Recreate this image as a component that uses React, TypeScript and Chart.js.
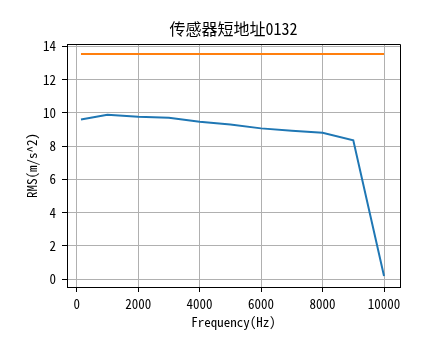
import React, { useEffect, useRef } from "react";
import { Chart, registerables } from "chart.js";

Chart.register(...registerables);

const TITLE = "传感器短地址0132";
const X_LABEL = "Frequency(Hz)";
const Y_LABEL = "RMS(m/s^2)";

const frequencies = [140, 1000, 2000, 3000, 4000, 5000, 6000, 7000, 8000, 9000, 10000];
const rmsValues = [9.61, 9.89, 9.77, 9.71, 9.47, 9.31, 9.07, 8.93, 8.81, 8.35, 0.18];
const thresholdX = [140, 10000];
const thresholdValues = [13.55, 13.55];

const xTicks = [0, 2000, 4000, 6000, 8000, 10000];
const yTicks = [0, 2, 4, 6, 8, 10, 12, 14];

const FONT = "'Noto Sans Mono CJK SC', 'Noto Sans CJK SC', 'DejaVu Sans', sans-serif";

const framePlugin = {
  id: "frame",
  beforeDraw(chart: any) {
    const { ctx, width, height } = chart;
    ctx.save();
    ctx.fillStyle = "#ffffff";
    ctx.fillRect(0, 0, width, height);
    ctx.restore();
  },
  afterDraw(chart: any) {
    const { ctx, chartArea } = chart;
    const l = Math.round(chartArea.left) + 0.5;
    const r = Math.round(chartArea.right) + 0.5;
    const t = Math.round(chartArea.top) + 0.5;
    const b = Math.round(chartArea.bottom) + 0.5;
    ctx.save();
    ctx.strokeStyle = "#000000";
    ctx.lineWidth = 1;
    ctx.beginPath();
    ctx.moveTo(l, t);
    ctx.lineTo(r, t);
    ctx.lineTo(r, b);
    ctx.stroke();
    ctx.restore();
  },
};

export default function App() {
  const canvasRef = useRef<HTMLCanvasElement | null>(null);

  useEffect(() => {
    const canvas = canvasRef.current;
    if (!canvas) return;
    const chart = new Chart(canvas, {
      type: "line",
      data: {
        datasets: [
          {
            label: "RMS",
            data: frequencies.map((x, i) => ({ x, y: rmsValues[i] })),
            borderColor: "#1f77b4",
            backgroundColor: "#1f77b4",
            borderWidth: 2,
            pointRadius: 0,
            tension: 0,
          },
          {
            label: "Threshold",
            data: thresholdX.map((x, i) => ({ x, y: thresholdValues[i] })),
            borderColor: "#ff7f0e",
            backgroundColor: "#ff7f0e",
            borderWidth: 2,
            pointRadius: 0,
            tension: 0,
          },
        ],
      },
      options: {
        responsive: false,
        animation: false,
        devicePixelRatio: 1,
        layout: { padding: { left: 0, right: 44, top: 0, bottom: 0 } },
        plugins: {
          legend: { display: false },
          tooltip: { enabled: false },
          title: {
            display: true,
            text: TITLE,
            fullSize: false,
            color: "#000000",
            font: { family: FONT, size: 16, weight: "normal", lineHeight: 1.2 },
            padding: { top: 18.9, bottom: 5.9 },
          },
        },
        scales: {
          x: {
            type: "linear",
            min: -315,
            max: 10520,
            afterBuildTicks: (s: any) => {
              s.ticks = xTicks.map((v) => ({ value: v }));
            },
            afterFit: (s: any) => {
              s.height = 72;
            },
            ticks: {
              color: "#000000",
              font: { family: FONT, size: 13 },
              padding: 4,
              maxRotation: 0,
              autoSkip: false,
              callback: (v: any) => String(v),
            },
            grid: { color: "#b0b0b0", lineWidth: 1, tickColor: "#000000", tickLength: 5, drawTicks: true },
            border: { color: "#000000", width: 1 },
            title: {
              display: true,
              text: X_LABEL,
              color: "#000000",
              font: { family: FONT, size: 13 },
              padding: { top: 0, bottom: 29.5 },
            },
          },
          y: {
            type: "linear",
            min: -0.48,
            max: 14.15,
            afterBuildTicks: (s: any) => {
              s.ticks = yTicks.map((v) => ({ value: v }));
            },
            afterFit: (s: any) => {
              s.width = 67;
            },
            ticks: {
              color: "#000000",
              font: { family: FONT, size: 13 },
              padding: 6,
              autoSkip: false,
              callback: (v: any) => String(v),
            },
            grid: { color: "#b0b0b0", lineWidth: 1, tickColor: "#000000", tickLength: 5, drawTicks: true },
            border: { color: "#000000", width: 1 },
            title: {
              display: true,
              text: Y_LABEL,
              color: "#000000",
              font: { family: FONT, size: 13 },
              padding: { top: 24.2, bottom: 0 },
            },
          },
        },
      },
      plugins: [framePlugin],
    } as any);
    return () => chart.destroy();
  }, []);

  return (
    <div style={{ position: "absolute", left: 0, top: 0, width: 444, height: 359 }}>
      <canvas ref={canvasRef} width={444} height={359} style={{ display: "block", width: 444, height: 359 }} />
    </div>
  );
}
